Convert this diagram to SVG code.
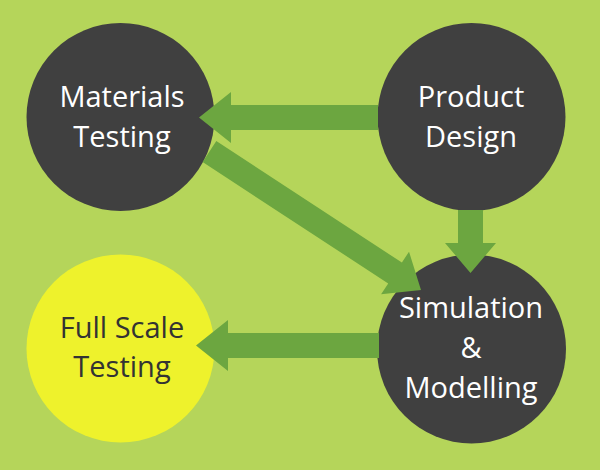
<svg xmlns="http://www.w3.org/2000/svg" width="600" height="470" viewBox="0 0 600 470">
<style>
.dark{fill:#404040}
.yel{fill:#eef22c}
.arr{fill:#6ca640}
text{font-family:"Open Sans","Liberation Sans",sans-serif;font-size:29px;text-anchor:middle}
.w{fill:#ffffff}
.k{fill:#333333}
</style>
<rect width="600" height="470" fill="#b5d55a"/>
<g id="materials-testing">
<circle class="dark" cx="120.5" cy="117" r="94"/>
<text class="w" x="122" y="107">Materials</text>
<text class="w" x="122" y="147">Testing</text>
</g>
<g id="product-design">
<circle class="dark" cx="471.5" cy="117" r="94"/>
<text class="w" x="471" y="107">Product</text>
<text class="w" x="471" y="147">Design</text>
</g>
<g id="simulation-modelling">
<circle class="dark" cx="471.5" cy="349" r="94.5"/>
<text class="w" x="471" y="318">Simulation</text>
<text class="w" x="471" y="358">&amp;</text>
<text class="w" x="471" y="398">Modelling</text>
</g>
<g id="full-scale-testing">
<circle class="yel" cx="120.5" cy="348.5" r="94"/>
<text class="k" x="122" y="338">Full Scale</text>
<text class="k" x="122" y="377">Testing</text>
</g>
<g id="connectors">
<polygon class="arr" points="199,117.5 231,92 231,105 378,105 378,130 231,130 231,143"/>
<polygon class="arr" points="196,345.5 228,320 228,333 379,333 379,358 228,358 228,371"/>
<polygon class="arr" points="470.5,273 445,243 458,243 458,210 483,210 483,243 496,243"/>
<polygon class="arr" transform="translate(421,290) rotate(33.2)" points="0,0 -31,-25.5 -31,-12.5 -252.8,-12.5 -252.8,12.5 -31,12.5 -31,25.5"/>
</g>
</svg>
